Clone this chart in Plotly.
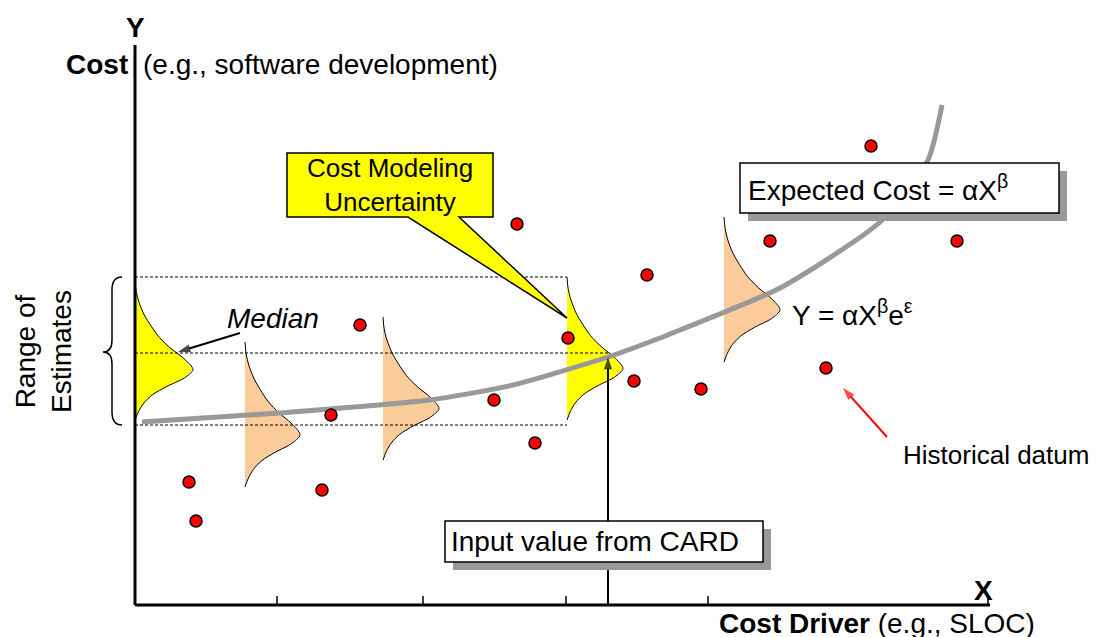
import plotly.graph_objects as go

# historical data points (cost driver, cost)
hist_x = [54, 61, 187, 196, 225, 359, 400, 382, 433, 499, 512, 566, 635, 691, 736, 822]
hist_y = [123, 84, 115, 190, 280, 205, 162, 381, 267, 224, 330, 216, 364, 237, 459, 364]

# expected cost curve
curve_x = [7, 145, 195, 295, 378, 473, 525, 545, 645, 745, 793, 807]
curve_y = [183, 192, 196, 205, 220, 248, 267, 275, 317, 383, 445, 500]

# distributions: base x, top, bottom, width, fill
dist_x = [0, 110, 248, 432, 589]
dist_top = [325, 263, 288, 328, 388]
dist_bottom = [185, 118, 145, 185, 243]
dist_width = [58, 55, 56, 56, 56]
dist_color = ["#FFFF00", "#FCCB9A", "#FCCB9A", "#FFFF00", "#FCCB9A"]

# shape of the skewed density (fraction down from top, fraction of width)
prof_t = [0, 0.08, 0.16, 0.25, 0.33, 0.41, 0.49, 0.56, 0.64, 0.70, 0.76, 0.82, 0.88, 0.94, 1.0]
prof_w = [0, 0.02, 0.07, 0.16, 0.28, 0.42, 0.62, 0.84, 1.0, 0.85, 0.55, 0.3, 0.15, 0.06, 0]

# range of estimates lines
range_top, range_median, range_bottom = 328, 252, 180
input_x = 473
tick_x = [142, 288, 431, 573, 853]

# arrows: (tail x, tail y, head x, head y, colour)
arrows = [
    (105, 272, 43, 253, "black"),
    (752, 168, 708, 217, "#FF0000"),
    (input_x, 0, input_x, 248, "black"),
]

FONT = "Liberation Sans, Arial, sans-serif"

fig = go.Figure()

for bx, top, bot, w, col in zip(dist_x, dist_top, dist_bottom, dist_width, dist_color):
    xs = [bx + p * w for p in prof_w]
    ys = [top - t * (top - bot) for t in prof_t]
    fig.add_trace(go.Scatter(x=xs + [bx], y=ys + [top], fill="toself", fillcolor=col,
                             mode="lines", line=dict(width=0, color=col), hoverinfo="skip"))
    fig.add_trace(go.Scatter(x=xs, y=ys, mode="lines",
                             line=dict(color="black", width=1, shape="spline", smoothing=0.8),
                             hoverinfo="skip"))

fig.add_trace(go.Scatter(x=curve_x, y=curve_y, mode="lines",
                         line=dict(color="#999999", width=5, shape="spline", smoothing=0.6),
                         hoverinfo="skip"))

# dashed range lines
for yy, xend in [(range_top, 432), (range_median, input_x), (range_bottom, 432)]:
    fig.add_trace(go.Scatter(x=[0, xend], y=[yy, yy], mode="lines",
                             line=dict(color="black", width=1, dash="3px,2px"), hoverinfo="skip"))

fig.add_trace(go.Scatter(x=hist_x, y=hist_y, mode="markers",
                         marker=dict(size=12, color="#FF0000", line=dict(color="black", width=1.5)),
                         hoverinfo="skip"))

for x0, y0, x1, y1, col in arrows:
    fig.add_trace(go.Scatter(x=[x0, x1], y=[y0, y1], mode="lines+markers",
                             line=dict(color=col, width=2),
                             marker=dict(symbol="arrow", size=[0, 13], angleref="previous",
                                         color=col, line=dict(width=0)),
                             hoverinfo="skip"))

shapes = []
# axes
shapes.append(dict(type="line", x0=0, x1=0, y0=0, y1=560, line=dict(color="black", width=3)))
shapes.append(dict(type="line", x0=0, x1=855, y0=0, y1=0, line=dict(color="black", width=3)))
for tx in tick_x:
    shapes.append(dict(type="line", x0=tx, x1=tx, y0=0, y1=9, line=dict(color="black", width=1.5)))
# brace
shapes.append(dict(type="path",
                   path="M-13,328 Q-23,328 -23,315 L-23,265 Q-23,253 -32,253 Q-23,253 -23,241 L-23,193 Q-23,180 -13,180",
                   line=dict(color="black", width=1.5)))
# callout
shapes.append(dict(type="path", path="M152,452 L358,452 L358,388 L324,388 L432,287 L273,388 L152,388 Z",
                   fillcolor="#FFFF00", line=dict(color="black", width=1.5), layer="above"))
# expected cost box with shadow
shapes.append(dict(type="rect", x0=613, x1=932, y0=384, y1=434, fillcolor="#999999",
                   line=dict(width=0), layer="above"))
shapes.append(dict(type="rect", x0=605, x1=924, y0=392, y1=442, fillcolor="white",
                   line=dict(color="black", width=1.5), layer="above"))
# input box with shadow
shapes.append(dict(type="rect", x0=318, x1=636, y0=35, y1=76, fillcolor="#999999",
                   line=dict(width=0), layer="above"))
shapes.append(dict(type="rect", x0=310, x1=628, y0=43, y1=84, fillcolor="white",
                   line=dict(color="black", width=1.5), layer="above"))

def txt(x, y, text, size=28, xanchor="center", **kw):
    return dict(x=x, y=y, text=text, showarrow=False, xanchor=xanchor, yanchor="middle",
                font=dict(family=FONT, size=size, color="black"), **kw)

annotations = [
    txt(0, 578, "<b>Y</b>"),
    txt(-5, 541, "<b>Cost</b>", xanchor="right"),
    txt(6, 541, "(e.g., software development)", xanchor="left"),
    txt(848, 15, "<b>X</b>"),
    txt(902, -18, "<b>Cost Driver</b> (e.g., SLOC)", xanchor="right"),
    txt(-92, 253, "Range of<br>Estimates", textangle=-90),
    txt(138, 287, "<i>Median</i>"),
    txt(255, 420, "Cost Modeling<br>Uncertainty", 26),
    txt(611, 417, "Expected Cost = αX<sup>β</sup>", xanchor="left"),
    txt(655, 292, "Y = αX<sup>β</sup>e<sup>ε</sup>", xanchor="left"),
    txt(766, 150, "Historical datum", 26, xanchor="left"),
    txt(314, 64, "Input value from CARD", xanchor="left"),
]

# the page adds an 8px body margin, so the ranges are offset by 8px
fig.update_layout(
    width=1105, height=637, margin=dict(l=0, r=0, t=0, b=0),
    plot_bgcolor="white", paper_bgcolor="white", showlegend=False,
    xaxis=dict(range=[-127, 978], visible=False, fixedrange=True),
    yaxis=dict(range=[-40, 597], visible=False, fixedrange=True),
    shapes=shapes, annotations=annotations,
)

fig.write_html("out.html")
